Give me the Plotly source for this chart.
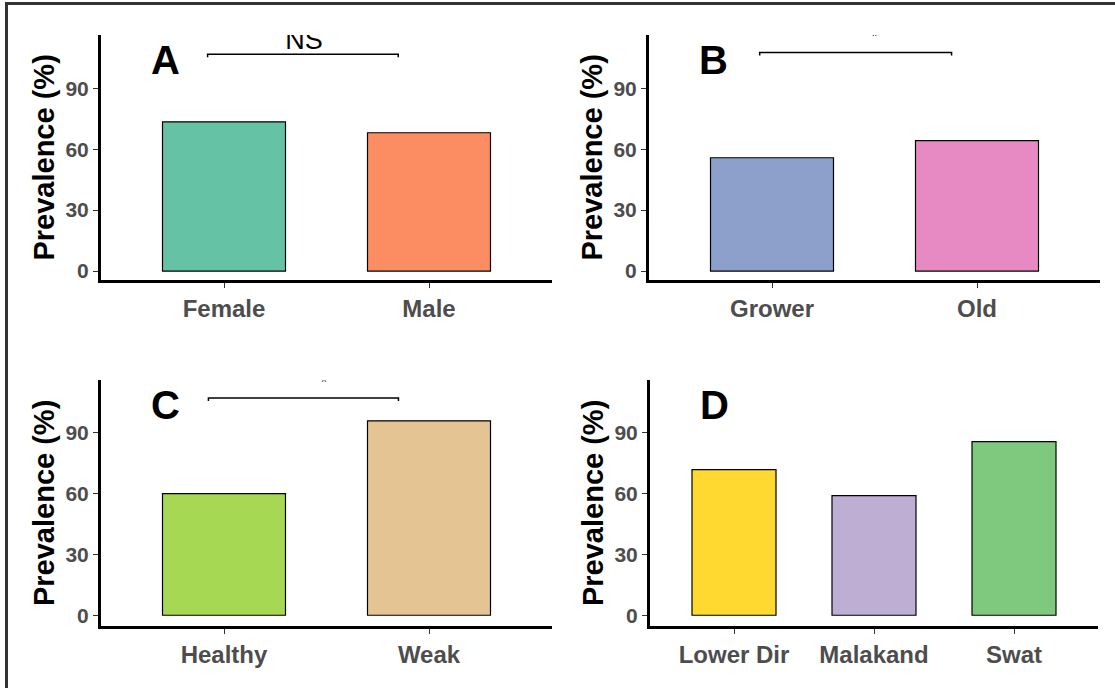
import plotly.graph_objects as go

# ---- data ----
sex_cats = ["Female", "Male"]
sex_vals = [73.5, 68.1]
age_cats = ["Grower", "Old"]
age_vals = [55.8, 64.2]
health_cats = ["Healthy", "Weak"]
health_vals = [60.0, 95.9]
area_cats = ["Lower Dir", "Malakand", "Swat"]
area_vals = [71.8, 59.0, 85.6]

sex_colors = ["#66C2A5", "#FC8D62"]
age_colors = ["#8DA0CB", "#E78AC3"]
health_colors = ["#A6D854", "#E5C494"]
area_colors = ["#FFD92F", "#BEAED4", "#7FC97F"]

y_ticks = [0, 30, 60, 90]
panel_letters = ["A", "B", "C", "D"]

# significance brackets: (x start, x end, y level), label
sig_A = dict(x0=-0.08, x1=0.85, y=106.8, label="NS", lx=0.39, ly=112.6, size=27)
sig_B = dict(x0=-0.06, x1=0.876, y=107.6, label="..", lx=0.5, ly=117.0, size=9)
sig_C = dict(x0=-0.076, x1=0.851, y=107.2, label="^", lx=0.487, ly=114.6, size=9)

W, H = 1115, 690
FONT = "Liberation Sans, Arial, sans-serif"

fig = go.Figure()

def px_x(a, b):
    return [a / W, b / W]

def px_y(top, bottom):
    return [1 - bottom / H, 1 - top / H]

panels = [
    dict(cats=sex_cats, vals=sex_vals, cols=sex_colors, xd=px_x(101, 552), yd=px_y(35, 281), yr=[-4.5, 116.3], sig=sig_A),
    dict(cats=age_cats, vals=age_vals, cols=age_colors, xd=px_x(649, 1100), yd=px_y(35, 281), yr=[-4.5, 116.3], sig=sig_B),
    dict(cats=health_cats, vals=health_vals, cols=health_colors, xd=px_x(101, 552), yd=px_y(381, 628), yr=[-5.4, 116.1], sig=sig_C),
    dict(cats=area_cats, vals=area_vals, cols=area_colors, xd=px_x(650, 1098), yd=px_y(381, 628), yr=[-5.4, 116.1], sig=None),
]

layout_axes = {}
shapes = []
annotations = []
for i, p in enumerate(panels):
    n = i + 1
    xa = "x" if n == 1 else f"x{n}"
    ya = "y" if n == 1 else f"y{n}"
    idx = list(range(len(p["cats"])))
    fig.add_trace(go.Bar(
        x=idx, y=p["vals"], xaxis=xa, yaxis=ya, width=0.6,
        marker=dict(color=p["cols"], line=dict(color="black", width=1.2)),
        showlegend=False, hovertext=p["cats"], hoverinfo="text+y",
    ))
    xkey = "xaxis" if n == 1 else f"xaxis{n}"
    ykey = "yaxis" if n == 1 else f"yaxis{n}"
    layout_axes[xkey] = dict(
        domain=p["xd"], anchor=ya,
        range=[-0.6, len(p["cats"]) - 0.4],
        tickvals=idx, ticktext=p["cats"],
        showgrid=False, zeroline=False, showline=True, linecolor="black", linewidth=3,
        ticks="outside", ticklen=5, tickwidth=1, tickcolor="#333333",
        tickfont=dict(family=FONT, size=24, color="#4D4D4D", weight="bold"),
        fixedrange=True,
    )
    layout_axes[ykey] = dict(
        domain=p["yd"], anchor=xa, range=p["yr"],
        tickvals=y_ticks, ticktext=[str(t) for t in y_ticks],
        showgrid=False, zeroline=False, showline=True, linecolor="black", linewidth=3,
        ticks="outside", ticklen=5, tickwidth=1, tickcolor="#333333",
        tickfont=dict(family=FONT, size=21, color="#4D4D4D", weight="bold"),
        fixedrange=True,
    )
    # y title
    xc = p["xd"][0] - 57 / W
    yc = (p["yd"][0] + p["yd"][1]) / 2
    annotations.append(dict(
        text="Prevalence (%)", xref="paper", yref="paper", x=xc, y=yc,
        textangle=-90, showarrow=False, xanchor="center", yanchor="middle",
        font=dict(family=FONT, size=29, color="black", weight="bold"),
    ))
    # panel letter
    annotations.append(dict(
        text=panel_letters[i], xref="paper", yref="paper",
        x=p["xd"][0] + 64 / W, y=p["yd"][1] - 25 / H,
        showarrow=False, xanchor="center", yanchor="middle",
        font=dict(family=FONT, size=40, color="black", weight="bold"),
    ))
    s = p["sig"]
    if s:
        tip = 1.5
        shapes.append(dict(
            type="path", xref=xa, yref=ya,
            path=f"M {s['x0']},{s['y'] - tip} L {s['x0']},{s['y']} L {s['x1']},{s['y']} L {s['x1']},{s['y'] - tip}",
            line=dict(color="black", width=1.5),
        ))
        fig.add_trace(go.Scatter(
            x=[s["lx"]], y=[s["ly"]], xaxis=xa, yaxis=ya, mode="text",
            text=[s["label"]], textposition="middle center", cliponaxis=True,
            textfont=dict(family=FONT, size=s["size"], color="black"),
            showlegend=False, hoverinfo="skip",
        ))

# outer frame lines (top and left)
shapes.append(dict(type="line", xref="paper", yref="paper", x0=5 / W, x1=1, y0=1 - 3.5 / H, y1=1 - 3.5 / H,
                   line=dict(color="#333333", width=3)))
shapes.append(dict(type="line", xref="paper", yref="paper", x0=6.5 / W, x1=6.5 / W, y0=0, y1=1 - 2 / H,
                   line=dict(color="#333333", width=3)))

fig.update_layout(
    width=W, height=H, margin=dict(l=0, r=0, t=0, b=0),
    paper_bgcolor="white", plot_bgcolor="white",
    shapes=shapes, annotations=annotations, **layout_axes,
)

fig.write_html("out.html", config={"displayModeBar": False},
               post_script="document.body.style.margin='0';document.body.style.overflow='hidden';")
